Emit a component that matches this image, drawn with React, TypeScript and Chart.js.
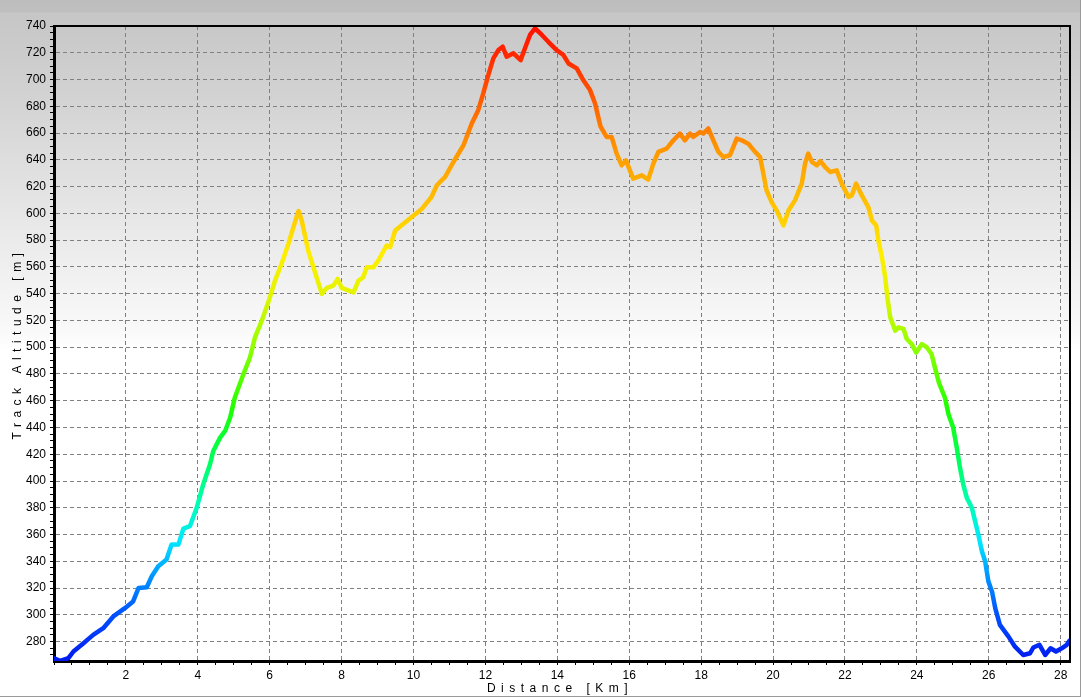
import { useEffect, useRef } from 'react';
import { Chart, registerables } from 'chart.js';

Chart.register(...registerables);

const distanceKm = [
  0.0, 0.17, 0.4, 0.54, 0.82, 1.09, 1.37, 1.65, 1.97, 2.2, 2.35, 2.58, 2.72, 2.9, 3.13, 3.27, 3.46, 3.6, 3.78, 3.97,
  4.15, 4.34, 4.43, 4.62, 4.76, 4.9, 5.03, 5.27, 5.45, 5.59, 5.78, 5.96, 6.15, 6.33, 6.52, 6.66, 6.8, 6.89, 7.07, 7.26,
  7.45, 7.59, 7.77, 7.89, 8.0, 8.33, 8.47, 8.6, 8.7, 8.88, 9.02, 9.25, 9.35, 9.49, 9.72, 9.95, 10.22, 10.5, 10.65, 10.88,
  11.11, 11.39, 11.62, 11.8, 11.94, 12.08, 12.22, 12.36, 12.48, 12.59, 12.78, 12.98, 13.1, 13.24, 13.38, 13.57, 13.75, 13.98, 14.17, 14.31,
  14.54, 14.72, 14.91, 15.05, 15.2, 15.37, 15.51, 15.65, 15.79, 15.91, 16.11, 16.35, 16.53, 16.67, 16.81, 17.04, 17.23, 17.41, 17.55, 17.69,
  17.78, 17.97, 18.06, 18.2, 18.34, 18.48, 18.62, 18.8, 18.99, 19.13, 19.31, 19.5, 19.64, 19.73, 19.82, 19.96, 20.1, 20.29, 20.43, 20.61,
  20.8, 20.89, 20.98, 21.08, 21.22, 21.31, 21.45, 21.59, 21.77, 21.91, 22.1, 22.19, 22.31, 22.47, 22.65, 22.75, 22.87, 22.93, 23.03, 23.12,
  23.18, 23.26, 23.4, 23.49, 23.63, 23.72, 23.86, 23.98, 24.14, 24.28, 24.41, 24.51, 24.62, 24.78, 24.88, 25.01, 25.11, 25.2, 25.29, 25.39,
  25.53, 25.62, 25.71, 25.81, 25.9, 25.99, 26.09, 26.18, 26.31, 26.55, 26.73, 26.96, 27.15, 27.24, 27.41, 27.57, 27.72, 27.87, 28.03, 28.17,
  28.24,
];

const altitudeM = [
  267.5, 265.6, 267.6, 272.6, 278.8, 285, 290, 298.8, 305, 310, 320, 320.6, 328.8, 336.3, 341.3, 352.5, 352.5, 364.5, 366.2, 380,
  397.5, 412.5, 422.4, 432.4, 437.4, 447.4, 462.4, 479.9, 492.3, 507.3, 519.8, 533.5, 549.8, 562.3, 577.2, 589.7, 601.7, 594.7, 572.2, 556,
  539.8, 544.3, 546, 551, 544.3, 541, 549.8, 552.2, 559.7, 559.7, 564.7, 576, 574.7, 587.2, 592.2, 597.2, 603, 612.2, 621, 627.2,
  638.4, 650.9, 667.1, 677.1, 689.6, 703.3, 715.8, 722, 724.5, 717, 719.6, 714.5, 723.3, 733.3, 738.3, 733.3, 728.2, 722, 718.3, 712,
  708.3, 699.6, 692.1, 682.1, 665, 657.1, 657.1, 644.7, 635.9, 639.6, 625.9, 628.4, 625.2, 637.2, 645.9, 648.4, 654.6, 659.6, 654.6, 659.6,
  657.1, 660.8, 659.6, 663.4, 654.6, 645.9, 642.1, 643.4, 655.9, 654.6, 652.1, 645.9, 642.1, 629.7, 617.2, 608.4, 602.2, 591, 602.2, 609.7,
  622.2, 637.2, 644.7, 638.4, 635.9, 639.1, 634.6, 630.9, 632.1, 622.2, 612.2, 613.4, 622.2, 613.4, 604.7, 594.7, 591, 579.7, 567.2, 552.2,
  537.2, 522.3, 512.3, 514.8, 513.6, 506.1, 502.3, 496, 502.3, 499.8, 494.9, 484, 473, 462.4, 449.9, 439.9, 424.9, 409.9, 397.5, 387.4,
  380, 370, 360, 347.5, 340, 325, 317.5, 305, 292.5, 283.7, 276.2, 270, 271.3, 275.6, 277.6, 270, 275, 272.6, 275, 277.6,
  280.5,
];

const xMin = 0;
const xMax = 28.26;
const yMin = 265.5;
const yMax = 740;
const xMinorStep = 0.5;
const xMajorStep = 2;
const yMinorStep = 5;
const yMajorStep = 20;

const xTitle = 'Distance [Km]';
const yTitle = 'Track Altitude [m]';

const colorStopAltitudes = [265, 300, 330, 355, 385, 420, 455, 500, 540, 570, 605, 645, 685, 715, 740];
const colorStopColors = [
  '#0018f0', '#0050ff', '#0098ff', '#00e8ff', '#00ffb0', '#00ff50', '#20ff00', '#90ff00',
  '#e4f400', '#ffee00', '#ffc400', '#ff9a00', '#ff5c00', '#ff2c00', '#ff1000',
];

const FONT = '"Liberation Sans", Arial, sans-serif';

const isMultiple = (v: number, step: number) => {
  const r = v / step;
  return Math.abs(r - Math.round(r)) < 1e-6;
};

const stepTicks = (from: number, to: number, step: number) => {
  const out: { value: number }[] = [];
  const start = Math.ceil(from / step - 1e-9);
  const end = Math.floor(to / step + 1e-9);
  for (let k = start; k <= end; k++) out.push({ value: Math.round(k * step * 1000) / 1000 });
  return out;
};

const framePlugin = {
  id: 'frameAndTitles',
  afterDraw(chart: any) {
    const { ctx, chartArea } = chart;
    if (!chartArea) return;
    ctx.save();
    ctx.strokeStyle = '#000';
    ctx.lineWidth = 2;
    ctx.beginPath();
    ctx.moveTo(chartArea.left, chartArea.top);
    ctx.lineTo(chartArea.right, chartArea.top);
    ctx.lineTo(chartArea.right, chartArea.bottom);
    ctx.stroke();

    ctx.fillStyle = '#000';
    ctx.font = `12px ${FONT}`;
    const spacing = 5.5;
    const hasLS = 'letterSpacing' in ctx;
    if (hasLS) (ctx as any).letterSpacing = `${spacing}px`;
    ctx.textAlign = 'center';
    ctx.textBaseline = 'middle';
    ctx.fillText(xTitle, (chartArea.left + chartArea.right) / 2 - 2, 689);

    ctx.translate(18, (chartArea.top + chartArea.bottom) / 2);
    ctx.rotate(-Math.PI / 2);
    ctx.fillText(yTitle, 0, 0);
    if (hasLS) (ctx as any).letterSpacing = '0px';
    ctx.restore();
  },
};

export default function App() {
  const canvasRef = useRef<HTMLCanvasElement | null>(null);

  useEffect(() => {
    document.body.style.margin = '0';
    const canvas = canvasRef.current;
    if (!canvas) return;

    const points = distanceKm.map((x, i) => ({ x, y: altitudeM[i] }));

    const chart = new Chart(canvas, {
      type: 'line',
      data: {
        datasets: [
          {
            data: points,
            borderWidth: 4.5,
            pointRadius: 0,
            tension: 0,
            fill: false,
            borderJoinStyle: 'round',
            borderCapStyle: 'round',
            borderColor: (c: any) => {
              const ch = c.chart;
              if (!ch.chartArea) return '#0018f0';
              const ys = ch.scales.y;
              const a0 = colorStopAltitudes[0];
              const a1 = colorStopAltitudes[colorStopAltitudes.length - 1];
              const g = ch.ctx.createLinearGradient(0, ys.getPixelForValue(a0), 0, ys.getPixelForValue(a1));
              colorStopAltitudes.forEach((a, i) => g.addColorStop((a - a0) / (a1 - a0), colorStopColors[i]));
              return g;
            },
          },
        ],
      },
      options: {
        responsive: false,
        animation: false,
        devicePixelRatio: 1,
        layout: { padding: { left: 0, top: 26, right: 11, bottom: 0 } },
        plugins: { legend: { display: false }, tooltip: { enabled: false } },
        scales: {
          x: {
            type: 'linear',
            min: xMin,
            max: xMax,
            afterBuildTicks: (s: any) => {
              s.ticks = stepTicks(xMin, xMax, xMinorStep);
            },
            afterFit: (s: any) => {
              s.height = 36;
            },
            ticks: {
              autoSkip: false,
              maxRotation: 0,
              padding: 3,
              color: '#000',
              font: { size: 12, family: FONT },
              callback: (v: any) => {
                const n = Number(v);
                return n > 0 && isMultiple(n, xMajorStep) ? String(Math.round(n)) : '';
              },
            },
            grid: {
              color: (c: any) => {
                const v = c.tick ? c.tick.value : 0;
                return v > 0 && isMultiple(v, xMajorStep) ? '#808080' : 'rgba(0,0,0,0)';
              },
              lineWidth: 1,
              tickLength: 4,
              tickColor: '#000',
              tickWidth: 1,
            },
            border: { display: true, color: '#000', width: 3, dash: [4, 3] },
          },
          y: {
            type: 'linear',
            min: yMin,
            max: yMax,
            afterBuildTicks: (s: any) => {
              s.ticks = stepTicks(yMin, yMax, yMinorStep);
            },
            afterFit: (s: any) => {
              s.width = 54;
            },
            ticks: {
              autoSkip: false,
              padding: 4,
              color: '#000',
              font: { size: 12, family: FONT },
              callback: (v: any) => {
                const n = Number(v);
                return isMultiple(n, yMajorStep) ? String(Math.round(n)) : '';
              },
            },
            grid: {
              color: (c: any) => {
                const v = c.tick ? c.tick.value : 0;
                return isMultiple(v, yMajorStep) && v < yMax ? '#808080' : 'rgba(0,0,0,0)';
              },
              lineWidth: 1,
              tickLength: 4,
              tickColor: '#000',
              tickWidth: 1,
            },
            border: { display: true, color: '#000', width: 3, dash: [4, 3] },
          },
        },
      },
      plugins: [framePlugin],
    });

    return () => chart.destroy();
  }, []);

  return (
    <div
      style={{
        position: 'relative',
        width: 1081,
        height: 697,
        boxSizing: 'border-box',
        borderRight: '1px solid #9a9a9a',
        borderBottom: '1px solid #9a9a9a',
        background:
          'linear-gradient(to bottom, #bdbdbd 0px, #bfbfbf 12px, #c6c6c6 13px, #d3d3d3 100px, #e1e1e1 180px, #eeeeee 260px, #fafafa 335px, #ffffff 350px, #ffffff 697px)',
        overflow: 'hidden',
      }}
    >
      <canvas ref={canvasRef} width={1081} height={697} style={{ display: 'block' }} />
    </div>
  );
}
